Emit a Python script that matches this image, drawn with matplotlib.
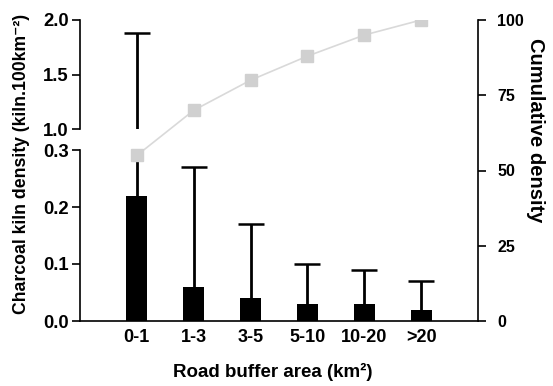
import numpy as np
import matplotlib
matplotlib.use('Agg')
import matplotlib.pyplot as plt

plt.rcParams['font.family'] = ['Liberation Sans', 'DejaVu Sans']
plt.rcParams['font.weight'] = 'bold'

categories = ['0-1', '1-3', '3-5', '5-10', '10-20', '>20']
density = [0.22, 0.06, 0.04, 0.03, 0.03, 0.02]
err_top = [1.88, 0.27, 0.17, 0.10, 0.09, 0.07]
cumulative = [55, 70, 80, 88, 95, 100]

x = np.arange(len(categories))
yerr_up = np.array(err_top) - np.array(density)
yerr = [np.zeros(len(x)), yerr_up]

W, H = 553, 386
fig = plt.figure(figsize=(W / 100, H / 100), dpi=100)

left, right = 80, 478
y0, y03, y10, y20 = 321, 150, 129, 20
xlim = (-1.0, 6.0)

ax_lo = fig.add_axes([left / W, (H - y0) / H, (right - left) / W, (y0 - y03) / H])
ax_hi = fig.add_axes([left / W, (H - y10) / H, (right - left) / W, (y10 - y20) / H])

for ax in (ax_lo, ax_hi):
    ax.bar(x, density, width=0.37, color='black', zorder=2)
    eb = ax.errorbar(x, density, yerr=yerr, fmt='none', ecolor='black',
                     elinewidth=2, capsize=9.5, capthick=1.8, zorder=1)
    # only keep the upper caps
    eb[1][0].set_visible(False)
    ax.set_xlim(*xlim)
    ax.patch.set_alpha(0)
    ax.spines['top'].set_visible(False)
    ax.spines['right'].set_visible(False)
    for s in ax.spines.values():
        s.set_linewidth(1.2)
    ax.tick_params(axis='y', direction='out', length=6, width=1.2, labelsize=13.3, pad=2)

ax_lo.set_ylim(0, 0.3)
ax_lo.set_yticks([0, 0.1, 0.2, 0.3])
ax_lo.set_yticklabels(['0.0', '0.1', '0.2', '0.3'])
ax_lo.set_xticks(x)
ax_lo.set_xticklabels(categories, fontsize=13)
ax_lo.tick_params(axis='x', length=0, pad=6)

ax_hi.set_ylim(1.0, 2.0)
ax_hi.set_yticks([1.0, 1.5, 2.0])
ax_hi.set_yticklabels(['1.0', '1.5', '2.0'])
ax_hi.spines['bottom'].set_visible(False)
ax_hi.set_xticks([])

ax_r = fig.add_axes([left / W, (H - y0) / H, (right - left) / W, (y0 - y20) / H])
ax_r.patch.set_alpha(0)
ax_r.plot(x, cumulative, color='#d9d9d9', lw=1.2, marker='s', markersize=8,
          markerfacecolor='#d0d0d0', markeredgecolor='#d0d0d0')
ax_r.set_xlim(*xlim)
ax_r.set_ylim(0, 100)
ax_r.set_xticks([])
for side in ['top', 'left', 'bottom']:
    ax_r.spines[side].set_visible(False)
ax_r.spines['right'].set_linewidth(1.2)
ax_r.yaxis.tick_right()
ax_r.set_yticks([0, 25, 50, 75, 100])
ax_r.tick_params(axis='y', direction='out', length=6, width=1.2, labelsize=11.5, pad=8)

fig.text(22 / W, 1 - 164 / H, 'Charcoal kiln density (kiln.100km\u207b\u00b2)',
         rotation=90, ha='center', va='center', fontsize=12.7, fontweight='bold')
fig.text(536 / W, 1 - 130 / H, 'Cumulative density', rotation=270,
         ha='center', va='center', fontsize=14.5, fontweight='bold')
fig.text(273 / W, 1 - 372 / H, 'Road buffer area (km\u00b2)',
         ha='center', va='center', fontsize=13.5, fontweight='bold')

fig.savefig('out.png', dpi=100)
